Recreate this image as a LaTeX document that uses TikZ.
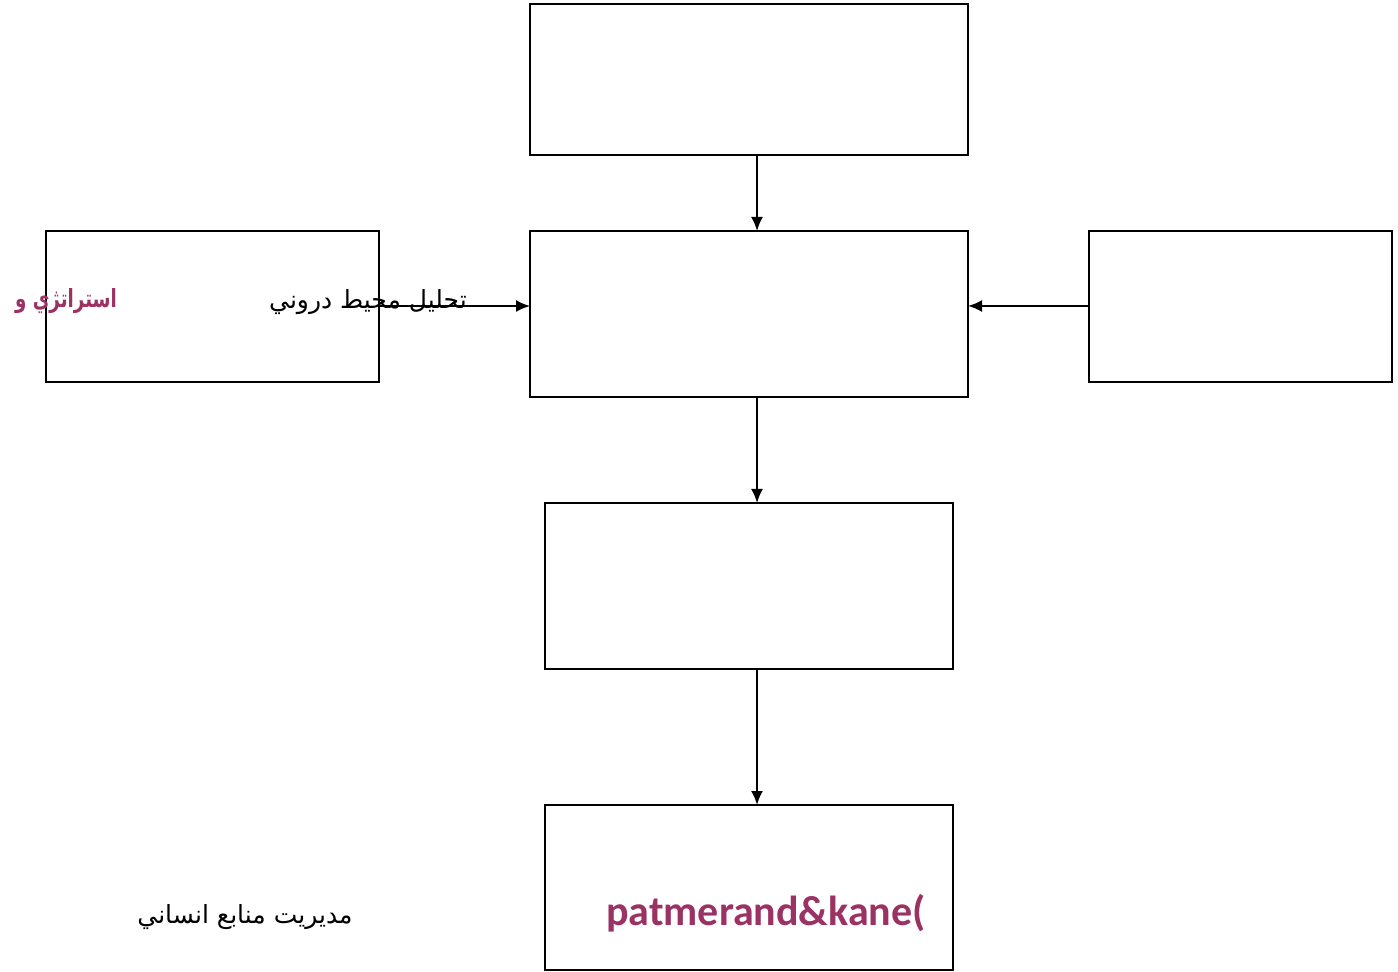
\documentclass[tikz,border=0pt]{standalone}
\usepackage{fontspec}
\setmainfont{DejaVu Sans}
\newfontfamily\arabicfont[Script=Arabic]{DejaVu Sans}
\newfontfamily\latinbold{Carlito}
\TeXXeTstate=1
\usetikzlibrary{arrows.meta}
\definecolor{plum}{RGB}{155,50,100}
\begin{document}
\begin{tikzpicture}[x=0.5pt,y=-0.5pt,
  box/.style={draw,line width=1pt},
  conn/.style={draw,line width=1pt,-{Latex[length=7pt,width=6pt]}},
  artext/.style={inner sep=0pt,font=\arabicfont\fontsize{12.5}{14}\selectfont}]
\useasboundingbox (0,0) rectangle (1398,972);
\draw[box] (530,4) rectangle (968,155);
\coordinate (topS) at (757,155);
\draw[box] (530,231) rectangle (968,397);
\coordinate (midN) at (757,231);
\coordinate (midS) at (757,397);
\coordinate (midW) at (530,306);
\coordinate (midE) at (968,306);
\draw[box] (46,231) rectangle (379,382);
\coordinate (leftE) at (379,306);
\draw[box] (1089,231) rectangle (1392,382);
\coordinate (rightW) at (1089,306);
\draw[box] (545,503) rectangle (953,669);
\coordinate (b3N) at (757,503);
\coordinate (b3S) at (757,669);
\draw[box] (545,805) rectangle (953,970);
\coordinate (b4N) at (757,805);
\draw[conn] (topS) -- (midN);
\draw[conn] (leftE) -- (midW);
\draw[conn] (rightW) -- (midE);
\draw[conn] (midS) -- (b3N);
\draw[conn] (b3S) -- (b4N);
\node[artext] (t1) at (368,302) {\beginR تحليل محيط دروني\endR};
\node[artext,font=\arabicfont\bfseries\fontsize{12.5}{14}\selectfont,text=plum] (t2) at (66,301) {\scalebox{0.73}[1]{\beginR استراتژي و\endR}};
\node[artext] (t3) at (245,917) {\beginR مديريت منابع انساني\endR};
\node[inner sep=0pt,font=\latinbold\bfseries\fontsize{21}{24}\selectfont,text=plum] (t4) at (766,913) {patmerand\&kane(};
\end{tikzpicture}
\end{document}
